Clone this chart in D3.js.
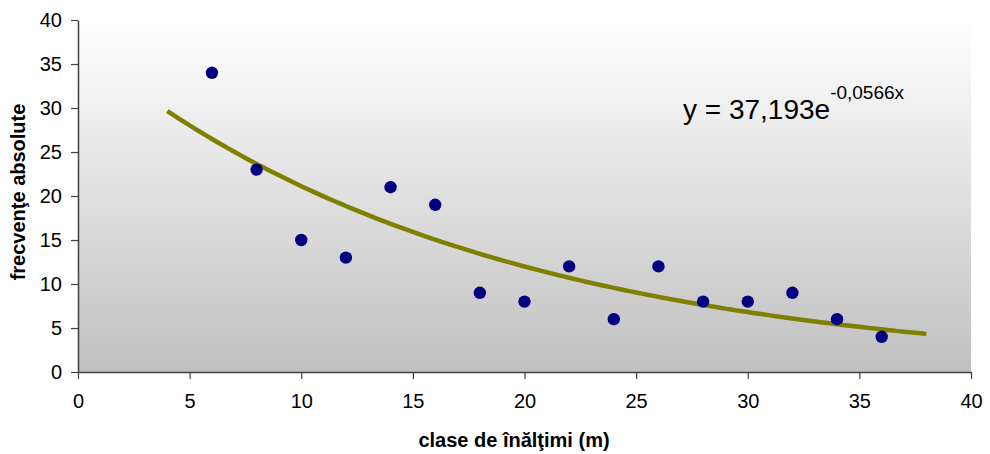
<!DOCTYPE html>
<html><head><meta charset="utf-8">
<script src="https://cdn.jsdelivr.net/npm/d3@7"></script>
<style>body{margin:0;background:#fff}svg{display:block}text{font-family:Arial,"Liberation Sans",sans-serif}</style>
</head><body>
<svg id="c" width="990" height="454"></svg>
<script>
const xValues = [6, 8, 10, 12, 14, 16, 18, 20, 22, 24, 26, 28, 30, 32, 34, 36];
const yValues = [34, 23, 15, 13, 21, 19, 9, 8, 12, 6, 12, 8, 8, 9, 6, 4];
const xTicks = [0, 5, 10, 15, 20, 25, 30, 35, 40];
const yTicks = [0, 5, 10, 15, 20, 25, 30, 35, 40];
const trendA = 37.193, trendB = -0.0566;
const trendRange = [4, 38];
const xTitle = "clase de înălţimi (m)";
const yTitle = "frecvenţe absolute";

const svg = d3.select("#c");
const L = 78, R = 971, T = 20, B = 372;
const x = d3.scaleLinear().domain([0, 40]).range([L, R]);
const y = d3.scaleLinear().domain([0, 40]).range([B, T]);

const defs = svg.append("defs");
const g = defs.append("linearGradient").attr("id", "bg").attr("x1", 0).attr("y1", 0).attr("x2", 0).attr("y2", 1);
g.append("stop").attr("offset", "0%").attr("stop-color", "#ffffff");
g.append("stop").attr("offset", "100%").attr("stop-color", "#c0c0c0");
svg.append("rect").attr("x", L).attr("y", T).attr("width", R - L).attr("height", B - T).attr("fill", "url(#bg)");

// trendline
const tx = d3.range(trendRange[0], trendRange[1] + 0.001, 0.25);
svg.append("path")
  .datum(tx)
  .attr("d", d3.line().x(d => x(d)).y(d => y(trendA * Math.exp(trendB * d))))
  .attr("fill", "none").attr("stroke", "#808000").attr("stroke-width", 4.5);

// points
svg.selectAll("circle.pt").data(xValues).enter().append("circle")
  .attr("class", "pt")
  .attr("cx", d => x(d)).attr("cy", (d, i) => y(yValues[i])).attr("r", 6.2)
  .attr("fill", "#000080");

// axes
const xAxis = svg.append("g").attr("transform", `translate(0,${B})`)
  .call(d3.axisBottom(x).tickValues(xTicks).tickSize(7).tickPadding(15).tickSizeOuter(0));
const yAxis = svg.append("g").attr("transform", `translate(${L},0)`)
  .call(d3.axisLeft(y).tickValues(yTicks).tickSize(7).tickPadding(9).tickSizeOuter(0));
[xAxis, yAxis].forEach(a => {
  a.select(".domain").attr("stroke", "#404040").attr("stroke-width", 1.5);
  a.selectAll(".tick line").attr("stroke", "#404040").attr("stroke-width", 1.2);
  a.selectAll(".tick text").attr("font-size", 20).attr("fill", "#000").attr("font-family", "Arial, 'Liberation Sans', sans-serif");
});

// titles
svg.append("text").attr("x", 514).attr("y", 447).attr("text-anchor", "middle")
  .attr("font-size", 20).attr("font-weight", "bold").text(xTitle);
svg.append("text").attr("transform", `translate(25,192) rotate(-90)`).attr("text-anchor", "middle")
  .attr("font-size", 20).attr("font-weight", "bold").text(yTitle);

// equation
const eq = svg.append("text").attr("x", 683).attr("y", 119).attr("font-size", 28).attr("fill", "#000");
eq.append("tspan").text("y = 37,193e");
eq.append("tspan").attr("font-size", 19).attr("dy", -20).text("-0,0566x");
</script>
</body></html>
